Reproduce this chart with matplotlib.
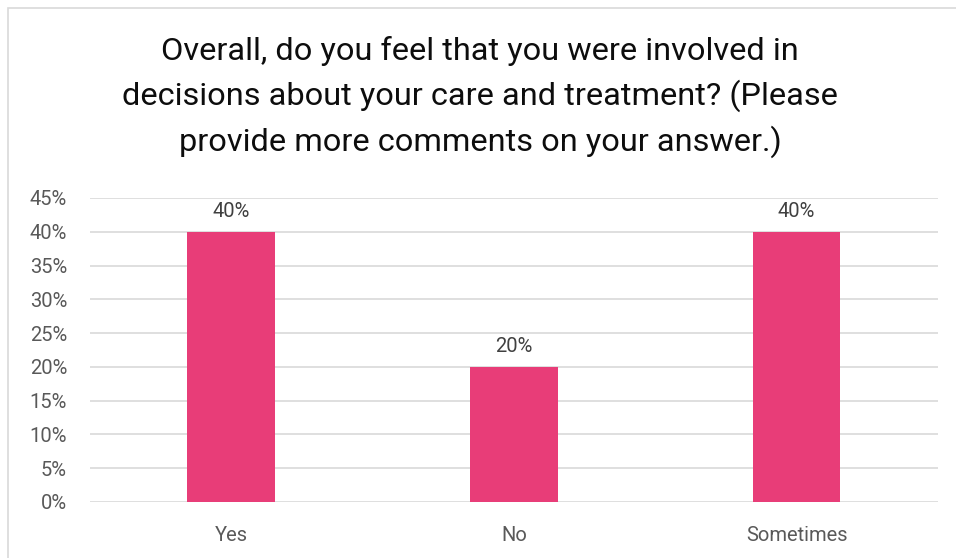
import matplotlib.pyplot as plt
from matplotlib.patches import Rectangle
from matplotlib.ticker import PercentFormatter

categories = ['Yes', 'No', 'Sometimes']
values = [0.40, 0.20, 0.40]
yticks = [0, 0.05, 0.10, 0.15, 0.20, 0.25, 0.30, 0.35, 0.40, 0.45]
title = ("Overall, do you feel that you were involved in\n"
         "decisions about your care and treatment? (Please\n"
         "provide more comments on your answer.)")

plt.rcParams['font.family'] = ['Roboto', 'DejaVu Sans']

fig = plt.figure(figsize=(9.56, 5.58), dpi=100)
ax = fig.add_axes([0.0941, 0.1004, 0.887, 0.5448])

# outer chart border (only top/left visible in the reference)
fig.patches.append(Rectangle((8 / 956, -0.05), 1.2, 1 - 8 / 558 + 0.05,
                             transform=fig.transFigure, fill=False,
                             edgecolor='#D9D9D9', linewidth=1.2))

x = range(len(categories))
bars = ax.bar(x, values, width=0.31, color='#E83D78', zorder=3)

for b, v in zip(bars, values):
    ax.text(b.get_x() + b.get_width() / 2, v + 0.016, f'{v:.0%}',
            ha='center', va='bottom', fontsize=14.5, color='#404040')

ax.set_xlim(-0.5, len(categories) - 0.5)
ax.set_ylim(0, 0.45)
ax.set_yticks(yticks)
ax.yaxis.set_major_formatter(PercentFormatter(1.0, decimals=0))
ax.set_xticks(list(x))
ax.set_xticklabels(categories)
ax.tick_params(axis='both', length=0, labelsize=14.5, labelcolor='#595959')
ax.tick_params(axis='y', pad=16.5)
ax.tick_params(axis='x', pad=17)
ax.grid(axis='y', color='#D9D9D9', linewidth=1.2, zorder=0)
for s in ax.spines.values():
    s.set_visible(False)

fig.text(0.502, 0.935, title, ha='center', va='top', fontsize=23.4,
         color='#0D0D0D', linespacing=1.53)

fig.savefig('out.png', dpi=100, facecolor='white')
